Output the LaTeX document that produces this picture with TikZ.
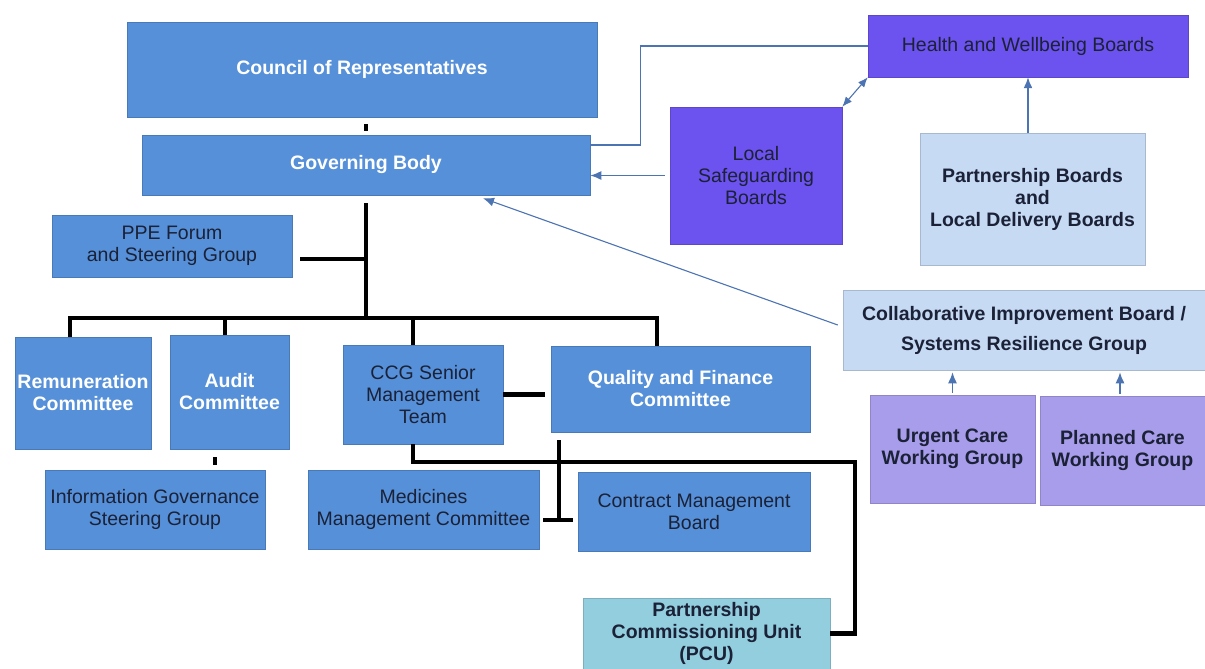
\documentclass[tikz,border=0pt]{standalone}
\usepackage{fontspec}
\setmainfont{Liberation Sans}
\usepackage{xcolor}
\usetikzlibrary{arrows.meta,positioning}
\definecolor{cobalt}{HTML}{5590D9}
\definecolor{board}{HTML}{6C52EE}
\definecolor{pale}{HTML}{C6DAF4}
\definecolor{lilac}{HTML}{A89DEA}
\definecolor{aqua}{HTML}{93CEDF}
\definecolor{link}{HTML}{4C73B2}
\definecolor{ink}{HTML}{1B2136}

\begin{document}
\begin{tikzpicture}[x=1pt,y=-1pt,>=Latex,
  box/.style={fill=#1,draw=#1!85!black,line width=0.5pt,inner sep=1pt,align=center,text=ink},
  lbl/.style={font=\fontsize{19.5}{22}\selectfont},
  bld/.style={font=\fontsize{19.5}{22}\selectfont\bfseries},
  wlbl/.style={bld,text=white},
  blk/.style={black,line width=4.5pt},
  lnk/.style={link,line width=1.4pt},
  tip/.style={-{Latex[length=11pt,width=9pt]}}]
\useasboundingbox (0,0) rectangle (1205,669);
% left hand: the CCG structure
\node[box=cobalt,wlbl,minimum width=470,minimum height=95] (council) at (362,69.5) {Council of Representatives};
\node[box=cobalt,wlbl,minimum width=448,minimum height=60] (gov) at (366,165) {Governing Body};
\node[box=cobalt,lbl,minimum width=240,minimum height=62] (ppe) at (172,246) {PPE Forum\\and Steering Group};
\node[box=cobalt,wlbl,minimum width=136,minimum height=112] (remun) at (83,393) {Remuneration\\Committee};
\node[box=cobalt,wlbl,minimum width=119,minimum height=114] (audit) at (229.5,392) {Audit\\Committee};
\node[box=cobalt,lbl,minimum width=160,minimum height=99] (ccg) at (423,394.5) {CCG Senior\\Management\\Team};
\node[box=cobalt,wlbl,minimum width=259,minimum height=86] (qf) at (680.5,389) {Quality and Finance\\Committee};
\node[box=cobalt,lbl,minimum width=220,minimum height=79] (infogov) at (155,509.5) {Information Governance\\Steering Group};
\node[box=cobalt,lbl,minimum width=231,minimum height=79] (med) at (423.5,509.5) {Medicines\\Management Committee};
\node[box=cobalt,lbl,minimum width=232,minimum height=79] (contract) at (694,511.5) {Contract Management\\Board};
\node[box=aqua,bld,minimum width=247,minimum height=71] (pcu) at (706.5,633.5) {Partnership\\Commissioning Unit\\(PCU)};
% right hand: partner boards
\node[box=board,lbl,minimum width=320,minimum height=62] (hwb) at (1028,46) {Health and Wellbeing Boards};
\node[box=board,lbl,minimum width=172,minimum height=137] (lsb) at (756,175.5) {Local\\Safeguarding\\Boards};
\node[box=pale,bld,minimum width=225,minimum height=132] (pb) at (1032.5,199) {Partnership Boards\\and\\Local Delivery Boards};
\node[box=pale,bld,minimum width=362,minimum height=80] (cib) at (1024,330) {Collaborative Improvement Board /\\[8pt]Systems Resilience Group};
\node[box=lilac,bld,minimum width=165,minimum height=108] (urgent) at (952.5,449) {Urgent Care\\Working Group};
\node[box=lilac,bld,minimum width=165,minimum height=109] (planned) at (1122.5,450.5) {Planned Care\\Working Group};
% black tree
\draw[blk,shorten <=7pt,shorten >=4pt] (gov.north |- council.south) -- (gov.north);
\coordinate (bus) at (366,318);
\coordinate (busL) at (70,318);
\coordinate (busR) at (657,318);
\draw[blk,shorten <=8pt] (gov.south) -- (bus);
\draw[blk] (busL |- remun.north) -- (busL) -- (busR) -- (busR |- qf.north);
\draw[blk] ([xshift=-4.5]audit.north) -- ([xshift=-4.5]audit.north |- bus);
\draw[blk] ([xshift=-10]ccg.north) -- ([xshift=-10]ccg.north |- bus);
\coordinate (ppeout) at ([shift={(8,13)}]ppe.east);
\draw[blk] (ppeout) -- (ppeout -| bus);
\draw[blk,shorten <=8pt,shorten >=5pt] ([xshift=-14.5]audit.south) -- ([xshift=-14.5]audit.south |- infogov.north);
\draw[blk,shorten >=6pt] (ccg.east) -- (ccg.east -| qf.west);
\coordinate (tee) at (559,520);
\draw[blk,shorten <=8pt] (tee |- qf.south) -- (tee);
\draw[blk,shorten <=4pt,shorten >=5pt] (med.east |- tee) -- (contract.west |- tee);
\coordinate (pcubend) at (855,462);
\draw[blk] ([xshift=-10]ccg.south) |- (pcubend) |- (pcu.east);
% blue links
\draw[lnk] ([shift={(0,-20)}]gov.east) -- ++(50,0) |- (hwb.west);
\draw[lnk,tip,shorten <=5pt] (lsb.west) -- (lsb.west -| gov.east);
\draw[lnk,line width=1.1pt,{Latex[length=10pt,width=8pt]}-{Latex[length=10pt,width=8pt]}] (lsb.north east) -- (hwb.south west);
\draw[lnk,tip] (hwb.south |- pb.north) -- (hwb.south);
\draw[lnk,line width=1.1pt,tip] ([shift={(-5,-5)}]cib.west) -- ([shift={(117,3)}]gov.south);
\draw[lnk,tip,shorten <=2pt,shorten >=2pt] (urgent.north) -- (urgent.north |- cib.south);
\draw[lnk,tip,shorten <=2pt,shorten >=2pt] ([xshift=-2.5]planned.north) -- ([xshift=-2.5]planned.north |- cib.south);
\end{tikzpicture}
\end{document}
